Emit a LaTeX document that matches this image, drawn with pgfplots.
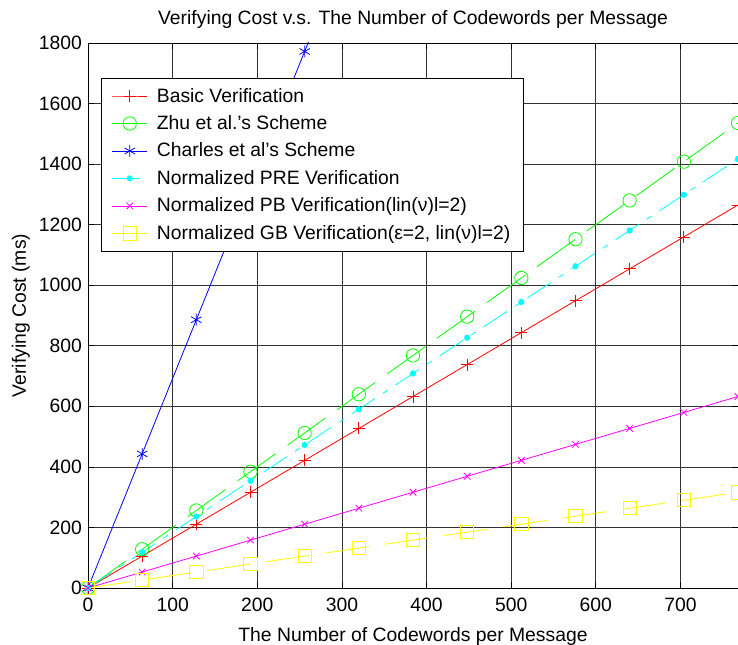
\documentclass[border=0pt]{standalone}
\usepackage{fontspec}
\setmainfont{Liberation Sans}
\usepackage{pgfplots}
\pgfplotsset{compat=1.18}
\definecolor{mred}{rgb}{1,0,0}
\definecolor{mgreen}{rgb}{0,1,0}
\definecolor{mblue}{rgb}{0,0,1}
\definecolor{mcyan}{rgb}{0,1,1}
\definecolor{mmagenta}{rgb}{1,0,1}
\definecolor{myellow}{rgb}{1,1,0}
\begin{document}
\begin{tikzpicture}[x=1pt,y=1pt]
\begin{axis}[
  at={(0,0)}, anchor=south west,
  scale only axis, width=487.5pt, height=408.75pt,
  xmin=0, xmax=768, ymin=0, ymax=1800,
  xtick={0,100,...,700}, ytick={0,200,...,1800},
  grid=major, major grid style={black!80, line width=0.5pt},
  tick align=inside, tick style={black, line width=0.5pt},
  axis line style={black, line width=0.6pt},
  /pgf/number format/assume math mode=true,
  /pgf/number format/set thousands separator={},
  font=\fontsize{14.5}{16}\selectfont,
  tick label style={font=\fontsize{14.5}{16}\selectfont},
  xticklabel style={yshift=-4pt},
  yticklabel style={xshift=-1pt},
  title={Verifying Cost v.s. The Number of Codewords per Message},
  title style={font=\fontsize{14.5}{16}\selectfont, yshift=1pt},
  xlabel={The Number of Codewords per Message},
  ylabel={Verifying Cost (ms)},
  label style={font=\fontsize{14.5}{16}\selectfont},
  xlabel style={yshift=-5pt},
  ylabel style={yshift=0pt},
  legend style={at={(0.02,0.936)}, anchor=north west, draw=black, fill=white,
    line width=0.6pt, font=\fontsize{14.5}{16}\selectfont,
    nodes={inner ysep=4.3pt},
    column sep=5pt, inner xsep=8pt, inner ysep=3pt},
  legend cell align=left,
  legend image code/.code={\draw[mark repeat=2,mark phase=2,line width=0.6pt] plot coordinates {(0pt,0pt)(13pt,0pt)(26pt,0pt)};},
  every axis plot/.append style={line width=0.6pt},
]
\addplot[color=mred, mark=+, mark size=4.5pt, mark options={solid}] coordinates {
(0,0) (64,105.4) (128,210.8) (192,316.2) (256,421.6) (320,527.0) (384,632.4)
(448,737.9) (512,843.3) (576,948.7) (640,1054.1) (704,1159.5) (768,1264.9)};
\addlegendentry{Basic Verification}
\addplot[color=mgreen, mark=o, mark size=5pt, dash pattern=on 35pt off 11pt, mark options={solid}] coordinates {
(0,0) (64,128) (128,256) (192,384) (256,512) (320,640) (384,768)
(448,896) (512,1024) (576,1152) (640,1280) (704,1408) (768,1536)};
\addlegendentry{Zhu et al.'s Scheme}
\addplot[color=mblue, mark=asterisk, mark size=4.5pt, mark options={solid}] coordinates {
(0,0) (64,443) (128,886) (192,1329) (256,1772) (320,2215)};
\addlegendentry{Charles et al's Scheme}
\addplot[color=mcyan, mark=*, mark size=2pt, dash pattern=on 21pt off 7pt on 4.5pt off 7pt, mark options={solid}] coordinates {
(0,0) (64,118.1) (128,236.2) (192,354.2) (256,472.3) (320,590.4) (384,708.5)
(448,826.6) (512,944.6) (576,1062.7) (640,1180.8) (704,1298.9) (768,1417.0)};
\addlegendentry{Normalized PRE Verification}
\addplot[color=mmagenta, mark=x, mark size=3.5pt, mark options={solid}] coordinates {
(0,0) (64,52.7) (128,105.4) (192,158.1) (256,210.8) (320,263.5) (384,316.2)
(448,369.0) (512,421.6) (576,474.3) (640,527.0) (704,579.7) (768,632.4)};
\addlegendentry{Normalized PB Verification(lin(ν)l=2)}
\addplot[color=myellow, mark=square, mark size=5pt, dash pattern=on 33pt off 12pt, mark options={solid}] coordinates {
(0,0) (64,26.4) (128,52.7) (192,79.1) (256,105.4) (320,131.8) (384,158.1)
(448,184.5) (512,210.8) (576,237.2) (640,263.5) (704,289.9) (768,316.2)};
\addlegendentry{Normalized GB Verification(ε=2, lin(ν)l=2)}
\end{axis}
\pgfresetboundingbox
\useasboundingbox (-66pt,-42.75pt) rectangle (487.5pt,441pt);
\end{tikzpicture}
\end{document}
